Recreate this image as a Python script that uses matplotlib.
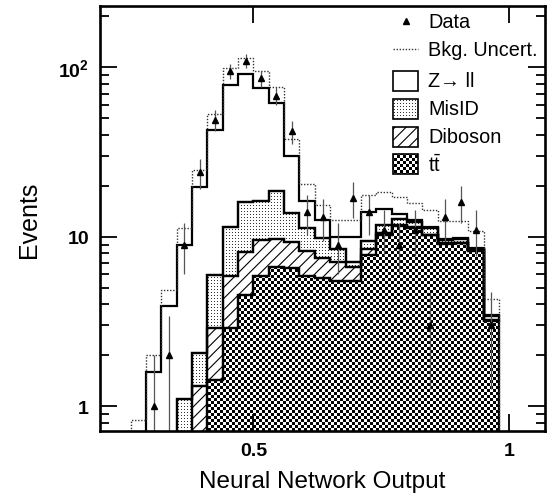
import numpy as np
import matplotlib as mpl
import matplotlib.pyplot as plt
from matplotlib.patches import Rectangle
from matplotlib.lines import Line2D
from matplotlib.ticker import NullLocator, LogLocator, NullFormatter

mpl.rcParams['font.family'] = ['Liberation Sans', 'DejaVu Sans']
mpl.rcParams['mathtext.fontset'] = 'custom'
mpl.rcParams['mathtext.rm'] = 'Liberation Sans'
mpl.rcParams['mathtext.it'] = 'Liberation Sans:italic'
mpl.rcParams['mathtext.bf'] = 'Liberation Sans:bold'
mpl.rcParams['hatch.linewidth'] = 0.8

# bins of the NN output (24 bins, width 0.03)
bin_edges = [0.26, 0.29, 0.32, 0.35, 0.38, 0.41, 0.44, 0.47, 0.50, 0.53, 0.56, 0.59, 0.62,
             0.65, 0.68, 0.71, 0.74, 0.77, 0.80, 0.83, 0.86, 0.89, 0.92, 0.95, 0.98]
# observed events
data = [0, 1, 2, 9, 24, 49, 95, 109, 86, 68, 42, 14, 13, 9, 17, 14, 11, 9, 11, 3, 13, 16, 11, 3]
# backgrounds (per sample, stacked bottom to top)
ttbar = [0, 0, 0, 0, 0, 1.42, 2.88, 4.55, 5.9, 6.6, 6.55, 5.9, 5.7, 5.5, 5.45, 7.8, 10.3, 11.6,
         11.3, 10.2, 9.1, 9.2, 8.3, 3.2]
diboson = [0, 0, 0, 0, 1.32, 1.46, 3.02, 3.55, 3.7, 3.1, 2.75, 2.4, 1.75, 1.6, 1.15, 0.66, 0.3,
           0.2, 0.1, 0.1, 0.05, 0.05, 0.05, 0.02]
misid = [0, 0, 0, 1.1, 0.73, 3.07, 5.6, 7.9, 6.6, 9.0, 4.5, 3.0, 2.35, 1.4, 0.47, 1.04, 1.2, 0.9,
         0.9, 0.9, 0.45, 0.45, 0.15, 0.18]
zll = [0.45, 1.6, 3.9, 7.9, 17.65, 36.75, 67.3, 75.9, 58.8, 42.7, 16.2, 5.0, 2.7, 1.5, 2.93, 4.6,
       2.7, 0.9, 0.2, 0.3, 0.1, 0.1, 0.1, 0.07]
# upper edge of background uncertainty band
bkg_up = [0.83, 2.0, 4.87, 11.2, 24.7, 52.9, 98.8, 114, 95, 77, 37.7, 20.6, 15.5, 12.5, 12.5, 17.7,
          18.3, 17.1, 15.9, 14.3, 12.4, 12.4, 10.8, 4.3]

edges = np.array(bin_edges)
centers = 0.5 * (edges[:-1] + edges[1:])

fig = plt.figure(figsize=(5.51, 5.02), dpi=100)
ax = fig.add_axes([100 / 551, 70 / 502, 445 / 551, 425 / 502])
ax.set_yscale('log')
ax.set_xlim(0.2, 1.07)
ax.set_ylim(0.715, 230)

# fill patterns as pixel images (checkerboard for ttbar, dots for MisID)
fig.canvas.draw()
bb = ax.get_window_extent()
W, H = int(round(bb.width)), int(round(bb.height))
jj, ii = np.meshgrid(np.arange(W), np.arange(H))
checker = ((ii // 3 + jj // 3) % 2).astype(float)
dots = np.ones((H, W))
dots[(ii % 3 == 0) & (jj % 3 == 0)] = 0.2


def pattern(patch, arr, z=1):
    im = ax.imshow(arr, cmap='gray', vmin=0, vmax=1, extent=(0, 1, 0, 1),
                   transform=ax.transAxes, origin='lower', interpolation='nearest',
                   aspect='auto', zorder=z)
    im.set_clip_path(patch)
    return im


floor = 0.05
c1 = np.cumsum([ttbar, diboson, misid, zll], axis=0)
tops = np.maximum(c1, floor)
bots = np.vstack([np.full(len(ttbar), floor), tops[:-1]])

lw_h = 1.6
# ttbar
p_tt = ax.stairs(tops[0], edges, baseline=bots[0], fill=True, facecolor='none',
                 edgecolor='black', lw=lw_h, zorder=3)
pattern(p_tt, checker)
# diboson
ax.stairs(tops[1], edges, baseline=bots[1], fill=True, facecolor='white', hatch='///',
          edgecolor='black', lw=lw_h, zorder=2)
# MisID
p_mis = ax.stairs(tops[2], edges, baseline=bots[2], fill=True, facecolor='none',
                  edgecolor='black', lw=lw_h, zorder=3)
pattern(p_mis, dots)
# Z -> ll
ax.stairs(tops[3], edges, baseline=bots[3], fill=True, facecolor='white',
          edgecolor='black', lw=lw_h, zorder=2)

# background uncertainty
ax.stairs(bkg_up, edges, baseline=floor, color='#333333', lw=1.0, ls=(0, (1, 1.2)), zorder=4)

# data
n = np.array(data, dtype=float)
m = n > 0
err = np.sqrt(n[m])
lo = np.where(n[m] - err > 0, err, n[m] * 0.999)
ax.errorbar(centers[m], n[m], yerr=[lo, err], fmt='none', ecolor='#555555', elinewidth=0.9,
            capsize=0, zorder=5)
ax.plot(centers[m], n[m], ls='none', marker='^', color='black', ms=5, zorder=6)

# axes styling
ax.set_xticks([0.5, 1.0])
ax.set_xticklabels(['0.5', '1'], fontweight='bold', fontsize=14)
ax.xaxis.set_minor_locator(NullLocator())
ax.set_yticks([1, 10, 100])
ax.set_yticklabels(['1', '10', r'$\mathbf{10^{2}}$'], fontweight='bold', fontsize=14)
ax.yaxis.set_minor_locator(LogLocator(base=10, subs=np.arange(2, 10)))
ax.yaxis.set_minor_formatter(NullFormatter())
ax.tick_params(which='both', direction='in', top=True, right=True, width=1.3)
ax.tick_params(which='major', length=12)
ax.tick_params(which='minor', length=6.5)
ax.tick_params(axis='x', pad=8)
ax.tick_params(axis='y', pad=8)
for s in ax.spines.values():
    s.set_linewidth(1.9)
    s.set_zorder(10)

ax.set_xlabel('Neural Network Output', fontsize=17.5, labelpad=8)
ax.set_ylabel('Events', fontsize=18, labelpad=12)


# legend drawn by hand
def fy(py):
    return (432 - py) / 425


x0, bw, bh = (393 - 100) / 445, 25 / 445, 20 / 425
tx = (428 - 100) / 445
rows = [22, 50, 81.7, 110, 137.5, 165]
labels = ['Data', 'Bkg. Uncert.', 'Z\u2192 ll', 'MisID', 'Diboson', r'$\mathrm{t\bar{t}}$']
ax.plot([x0 + bw / 2], [fy(rows[0])], marker='^', color='black', ms=4.5,
        transform=ax.transAxes, zorder=12, clip_on=False)
ax.add_line(Line2D([x0, x0 + bw], [fy(rows[1])] * 2, color='#333333', lw=1.0,
                   ls=(0, (1, 1.2)), transform=ax.transAxes, zorder=12))
for k, r in enumerate(rows[2:]):
    rect = Rectangle((x0, fy(r) - bh / 2), bw, bh, transform=ax.transAxes,
                     facecolor='white', edgecolor='black', lw=1.2, zorder=12)
    if k == 2:
        rect.set_hatch('///')
    ax.add_patch(rect)
    if k in (1, 3):
        rect.set_facecolor('none')
        pattern(rect, dots if k == 1 else checker, z=11)
for r, lab in zip(rows, labels):
    ax.text(tx, fy(r), lab, transform=ax.transAxes, fontsize=14.3, va='center', ha='left',
            zorder=12)

ax.set_xlim(0.2, 1.07)
ax.set_ylim(0.715, 230)
fig.savefig('out.png', dpi=100)
